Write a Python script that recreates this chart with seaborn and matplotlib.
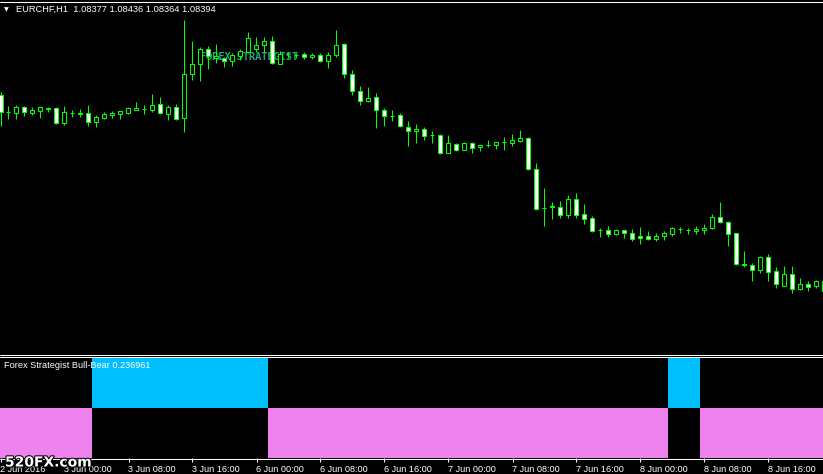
import numpy as np
import pandas as pd
import matplotlib
matplotlib.use("Agg")
import matplotlib.pyplot as plt
import matplotlib.patheffects as pe
from matplotlib.lines import Line2D
import seaborn as sns

# ---------------- data ----------------
symbol_title = "EURCHF,H1  1.08377 1.08436 1.08364 1.08394"
indicator_title = "Forex Strategist Bull-Bear 0.236961"
chart_label = "FOREX STRATEGIST"
watermark = "520FX.com"

open_ = [
    1.10290, 1.10120, 1.10107, 1.10167, 1.10110, 1.10135, 1.10150, 1.10157, 1.10007, 1.10107,
    1.10100, 1.10115, 1.10025, 1.10060, 1.10090, 1.10105, 1.10115, 1.10145, 1.10155, 1.10140,
    1.10197, 1.10100, 1.10167, 1.10057, 1.10497, 1.10597, 1.10747, 1.10660, 1.10660, 1.10633,
    1.10685, 1.10723, 1.10755, 1.10793, 1.10827, 1.10605, 1.10697, 1.10690, 1.10697, 1.10667,
    1.10687, 1.10627, 1.10687, 1.10797, 1.10495, 1.10327, 1.10227, 1.10267, 1.10140, 1.10083,
    1.10087, 1.09967, 1.09933, 1.09947, 1.09890, 1.09890, 1.09713, 1.09800, 1.09743, 1.09810,
    1.09767, 1.09790, 1.09787, 1.09817, 1.09813, 1.09833, 1.09857, 1.09547, 1.09157, 1.09167,
    1.09173, 1.09087, 1.09247, 1.09097, 1.09057, 1.08940, 1.08937, 1.08897, 1.08937, 1.08910,
    1.08880, 1.08877, 1.08855, 1.08877, 1.08903, 1.08947, 1.08937, 1.08930, 1.08943, 1.08957,
    1.09067, 1.09017, 1.08907, 1.08597, 1.08587, 1.08537, 1.08670, 1.08527, 1.08383, 1.08500,
    1.08353, 1.08403, 1.08377, 1.08333]

high = [
    1.10320, 1.10180, 1.10187, 1.10180, 1.10175, 1.10170, 1.10170, 1.10173, 1.10180, 1.10140,
    1.10153, 1.10187, 1.10090, 1.10117, 1.10130, 1.10130, 1.10173, 1.10220, 1.10195, 1.10300,
    1.10267, 1.10195, 1.10203, 1.11040, 1.10830, 1.10773, 1.10783, 1.10800, 1.10673, 1.10710,
    1.10755, 1.10917, 1.10867, 1.10867, 1.10880, 1.10727, 1.10720, 1.10713, 1.10717, 1.10707,
    1.10707, 1.10720, 1.10940, 1.10813, 1.10540, 1.10380, 1.10367, 1.10307, 1.10157, 1.10137,
    1.10107, 1.10030, 1.10000, 1.09967, 1.09930, 1.09900, 1.09890, 1.09810, 1.09820, 1.09820,
    1.09790, 1.09840, 1.09820, 1.09870, 1.09900, 1.09940, 1.09867, 1.09607, 1.09357, 1.09220,
    1.09227, 1.09290, 1.09307, 1.09200, 1.09080, 1.08963, 1.08980, 1.08950, 1.08940, 1.08950,
    1.08970, 1.08927, 1.08907, 1.08930, 1.08970, 1.08975, 1.08960, 1.08980, 1.09000, 1.09097,
    1.09220, 1.09030, 1.08910, 1.08730, 1.08607, 1.08680, 1.08700, 1.08570, 1.08580, 1.08580,
    1.08460, 1.08430, 1.08440, 1.08440]

low = [
    1.09980, 1.10050, 1.10050, 1.10080, 1.10090, 1.10060, 1.10120, 1.10000, 1.09990, 1.10073,
    1.10073, 1.09983, 1.09973, 1.10047, 1.10060, 1.10047, 1.10100, 1.10145, 1.10100, 1.10120,
    1.10103, 1.10045, 1.10045, 1.09923, 1.10437, 1.10433, 1.10550, 1.10613, 1.10573, 1.10585,
    1.10640, 1.10715, 1.10723, 1.10725, 1.10600, 1.10600, 1.10660, 1.10663, 1.10650, 1.10647,
    1.10620, 1.10563, 1.10673, 1.10465, 1.10295, 1.10193, 1.10225, 1.09957, 1.09983, 1.10030,
    1.09970, 1.09785, 1.09813, 1.09840, 1.09813, 1.09700, 1.09710, 1.09727, 1.09740, 1.09710,
    1.09733, 1.09767, 1.09750, 1.09740, 1.09783, 1.09823, 1.09540, 1.09143, 1.08983, 1.09053,
    1.09063, 1.09063, 1.09063, 1.09003, 1.08923, 1.08867, 1.08873, 1.08895, 1.08857, 1.08833,
    1.08803, 1.08845, 1.08833, 1.08837, 1.08883, 1.08907, 1.08897, 1.08900, 1.08903, 1.08950,
    1.09015, 1.08783, 1.08587, 1.08573, 1.08433, 1.08513, 1.08433, 1.08363, 1.08380, 1.08313,
    1.08340, 1.08330, 1.08363, 1.08330]

close = [
    1.10120, 1.10120, 1.10167, 1.10117, 1.10140, 1.10167, 1.10165, 1.10007, 1.10117, 1.10107,
    1.10115, 1.10023, 1.10067, 1.10097, 1.10107, 1.10127, 1.10157, 1.10160, 1.10155, 1.10188,
    1.10107, 1.10170, 1.10055, 1.10497, 1.10600, 1.10747, 1.10677, 1.10680, 1.10630, 1.10690,
    1.10730, 1.10857, 1.10787, 1.10830, 1.10607, 1.10697, 1.10697, 1.10690, 1.10667, 1.10690,
    1.10627, 1.10687, 1.10787, 1.10497, 1.10327, 1.10227, 1.10257, 1.10137, 1.10083, 1.10083,
    1.09977, 1.09933, 1.09947, 1.09883, 1.09890, 1.09710, 1.09807, 1.09740, 1.09810, 1.09763,
    1.09790, 1.09790, 1.09817, 1.09817, 1.09837, 1.09857, 1.09547, 1.09153, 1.09157, 1.09185,
    1.09087, 1.09247, 1.09093, 1.09053, 1.08933, 1.08940, 1.08897, 1.08937, 1.08907, 1.08853,
    1.08857, 1.08853, 1.08880, 1.08907, 1.08957, 1.08947, 1.08937, 1.08950, 1.08960, 1.09067,
    1.09017, 1.08903, 1.08597, 1.08593, 1.08537, 1.08670, 1.08523, 1.08397, 1.08500, 1.08353,
    1.08400, 1.08373, 1.08430, 1.08430]

# Bull-Bear signal per bar: 1 = bull (cyan, upper half), -1 = bear (violet, lower half)
signal = [
    -1, -1, -1, -1, -1, -1, -1, -1, -1, -1,
    -1, -1,  1,  1,  1,  1,  1,  1,  1,  1,
     1,  1,  1,  1,  1,  1,  1,  1,  1,  1,
     1,  1,  1,  1, -1, -1, -1, -1, -1, -1,
    -1, -1, -1, -1, -1, -1, -1, -1, -1, -1,
    -1, -1, -1, -1, -1, -1, -1, -1, -1, -1,
    -1, -1, -1, -1, -1, -1, -1, -1, -1, -1,
    -1, -1, -1, -1, -1, -1, -1, -1, -1, -1,
    -1, -1, -1, -1,  1,  1,  1,  1, -1, -1,
    -1, -1, -1, -1, -1, -1, -1, -1, -1, -1,
    -1, -1, -1, -1]

tick_bars = [0, 8, 16, 24, 32, 40, 48, 56, 64, 72, 80, 88, 96]
tick_labels = ["2 Jun 2016", "3 Jun 00:00", "3 Jun 08:00", "3 Jun 16:00",
               "6 Jun 00:00", "6 Jun 08:00", "6 Jun 16:00", "7 Jun 00:00",
               "7 Jun 08:00", "7 Jun 16:00", "8 Jun 00:00", "8 Jun 08:00",
               "8 Jun 16:00"]

# ---------------- style ----------------
GREEN = "#00ff00"
CYAN = "#00bfff"
VIOLET = "#ee82ee"

sns.set_theme(style="dark", rc={"axes.facecolor": "black",
                                "figure.facecolor": "black",
                                "savefig.facecolor": "black"})
plt.rcParams["font.family"] = ["Liberation Sans", "DejaVu Sans"]

W, H = 823, 474
fig = plt.figure(figsize=(W / 100, H / 100), dpi=100)


def fy(py):
    return 1 - py / H


ax = fig.add_axes([0, fy(354), 1, 354 / H])
ax2 = fig.add_axes([0, fy(458), 1, (458 - 357) / H])

n = len(close)
xs = np.arange(n)
XMIN = -0.0625
XMAX = XMIN + W / 8.0

df = pd.DataFrame({"bar": xs, "open": open_, "high": high, "low": low,
                   "close": close, "signal": signal})
df["bull"] = (df["signal"] > 0).astype(float)
df["bear"] = -(df["signal"] < 0).astype(float)

# ---------------- main candle chart ----------------
ax.vlines(df["bar"], df["low"], df["high"], color=GREEN, linewidth=0.75, zorder=2)
bottom = np.minimum(df["open"], df["close"])
height = np.abs(df["close"] - df["open"])
faces = np.where(df["close"] >= df["open"], "black", "white")
ax.bar(df["bar"], height, bottom=bottom, width=0.5, color=faces,
       edgecolor=GREEN, linewidth=0.75, zorder=3)
ax.set_xlim(XMIN, XMAX)
ax.set_ylim(1.0770, 1.1124)
ax.set_xticks([])
ax.set_yticks([])
for s in ax.spines.values():
    s.set_visible(False)
ax.grid(False)
ax.text(200 / W, 1 - 57.5 / 354, chart_label, transform=ax.transAxes,
        family="DejaVu Sans Mono", weight="bold", fontsize=7.4, color="#22a880",
        ha="left", va="center", zorder=1)

# ---------------- indicator window ----------------
sns.barplot(data=df, x="bar", y="bull", color=CYAN, width=1.0, saturation=1,
            native_scale=True, errorbar=None, linewidth=0, ax=ax2)
sns.barplot(data=df, x="bar", y="bear", color=VIOLET, width=1.0, saturation=1,
            native_scale=True, errorbar=None, linewidth=0, ax=ax2)
ax2.set_xlim(XMIN, XMAX)
ax2.set_ylim(-1, 1)
ax2.set_xlabel("")
ax2.set_ylabel("")
ax2.set_yticks([])
ax2.set_xticks(tick_bars)
ax2.set_xticklabels(tick_labels)
ax2.tick_params(axis="x", bottom=True, direction="out", length=2.9, width=0.75,
                color="white", labelcolor="white", labelsize=6.6, pad=2.0)
for lbl in ax2.get_xticklabels():
    lbl.set_horizontalalignment("left")
for s in ax2.spines.values():
    s.set_visible(False)
ax2.grid(False)

# ---------------- frame lines ----------------
for py in (1.5, 354.5, 356.5, 458.5):
    fig.add_artist(Line2D([0, 1], [fy(py), fy(py)], transform=fig.transFigure,
                          color="white", linewidth=0.75))

# ---------------- texts ----------------
fig.text(6 / W, fy(9.8), "\u25bc", family="DejaVu Sans", fontsize=4.5,
         color="white", ha="center", va="center")
fig.text(15.5 / W, fy(9.5), symbol_title, color="white", fontsize=6.7,
         ha="left", va="center")
fig.text(4 / W, fy(365.5), indicator_title, color="white", fontsize=6.6,
         ha="left", va="center")
fig.text(5 / W, fy(462.5), watermark, family="DejaVu Sans", weight="bold",
         fontsize=10, color="white", ha="left", va="center", zorder=10,
         path_effects=[pe.withStroke(linewidth=1.5, foreground="black")])

fig.savefig("out.png", dpi=100, facecolor="black")
